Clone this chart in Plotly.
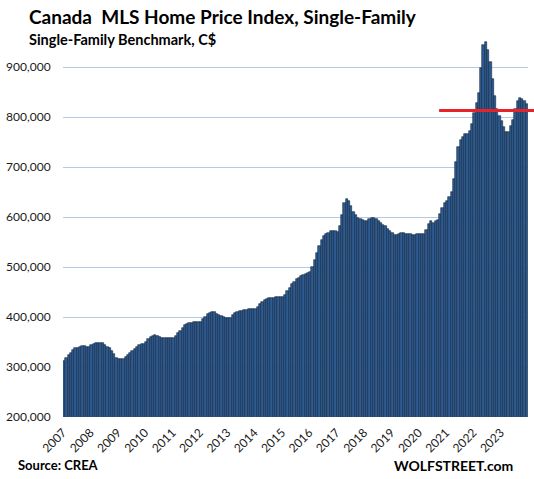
import plotly.graph_objects as go

# ---- data ----
start_year = 2007
hpi_values = [
    313000, 319000, 325000, 329000, 335000, 339000, 339000, 341000, 343000, 343000, 341000, 341000,  # 2007
    345000, 347000, 349000, 349000, 349000, 349000, 345000, 341000, 339000, 333000, 327000, 319000,  # 2008
    317000, 317000, 317000, 321000, 325000, 329000, 333000, 337000, 341000, 345000, 347000, 347000,  # 2009
    351000, 357000, 361000, 363000, 365000, 363000, 361000, 359000, 359000, 359000, 359000, 359000,  # 2010
    359000, 363000, 369000, 373000, 379000, 385000, 387000, 389000, 389000, 391000, 391000, 391000,  # 2011
    391000, 396000, 401000, 406000, 409000, 411000, 410000, 407000, 404000, 403000, 401000, 399000,  # 2012
    398000, 399000, 405000, 409000, 411000, 413000, 413000, 415000, 415000, 416000, 416000, 416000,  # 2013
    416000, 421000, 426000, 431000, 435000, 437000, 439000, 439000, 439000, 441000, 441000, 441000,  # 2014
    441000, 445000, 453000, 459000, 467000, 470000, 476000, 479000, 483000, 485000, 487000, 489000,  # 2015
    491000, 501000, 515000, 529000, 543000, 555000, 563000, 567000, 569000, 572000, 572000, 572000,  # 2016
    570000, 583000, 605000, 629000, 637000, 632000, 623000, 611000, 604000, 599000, 597000, 595000,  # 2017
    593000, 593000, 597000, 599000, 599000, 597000, 593000, 589000, 585000, 582000, 577000, 572000,  # 2018
    569000, 565000, 565000, 567000, 569000, 569000, 567000, 567000, 567000, 565000, 565000, 567000,  # 2019
    567000, 567000, 567000, 575000, 587000, 593000, 589000, 592000, 595000, 607000, 619000, 628000,  # 2020
    632000, 641000, 651000, 677000, 711000, 741000, 755000, 760000, 767000, 767000, 773000, 787000,  # 2021
    809000, 829000, 849000, 899000, 945000, 951000, 935000, 911000, 877000, 843000, 817000, 803000,  # 2022
    793000, 781000, 771000, 771000, 783000, 795000, 817000, 832000, 839000, 836000, 832000, 827000,  # 2023
]
year_labels = [str(y) for y in range(2007, 2024)]
y_ticks = [200000, 300000, 400000, 500000, 600000, 700000, 800000, 900000]
ref_level = 813000          # red reference line
ref_start = (2020, 9)       # month where the red line begins

# ---- derived positions ----
n = len(hpi_values)
month_index = list(range(n))
tick_positions = [12 * (int(y) - start_year) - 0.5 for y in year_labels]
x_range = [-0.5, n - 0.5]
y_range = [200000, 960000]

ref_idx = (ref_start[0] - start_year) * 12 + (ref_start[1] - 1)
ref_x0 = (ref_idx + 0.5 - x_range[0]) / (x_range[1] - x_range[0])
ref_y = (ref_level - y_range[0]) / (y_range[1] - y_range[0])

FONT = "Lato"

fig = go.Figure()
fig.add_trace(go.Bar(
    x=month_index,
    y=hpi_values,
    marker=dict(color="#2d5c93", line=dict(color="#14253d", width=0.6)),
    hoverinfo="y",
))

fig.update_layout(
    width=534, height=479,
    margin=dict(l=63, r=6, t=37, b=62),
    paper_bgcolor="white", plot_bgcolor="white",
    bargap=0,
    showlegend=False,
    font=dict(family=FONT, color="#1a1a1a"),
    xaxis=dict(
        range=x_range, automargin=False,
        tickmode="array", tickvals=tick_positions, ticktext=year_labels,
        tickangle=-45, tickfont=dict(size=12, family=FONT, color="#1a1a1a"),
        ticks="outside", ticklen=3, tickcolor="rgba(0,0,0,0)",
        showgrid=False, zeroline=False, showline=False,
    ),
    yaxis=dict(
        range=y_range, automargin=False,
        tickmode="array", tickvals=y_ticks,
        tickformat=",d",
        tickfont=dict(size=12, family=FONT, color="#1a1a1a"),
        ticks="outside", ticklen=9, tickcolor="rgba(0,0,0,0)",
        showgrid=True, gridcolor="#b3c9e4", gridwidth=1,
        zeroline=False, showline=False,
    ),
    shapes=[dict(
        type="line", xref="paper", yref="paper",
        x0=ref_x0, x1=1 + 6 / 465, y0=ref_y, y1=ref_y,
        line=dict(color="#e8222b", width=3), layer="above",
    )],
    annotations=[
        dict(text="<b>Canada  MLS Home Price Index, Single-Family</b>",
             xref="paper", yref="paper", x=-36 / 465, y=1 + 7 / 380,
             xanchor="left", yanchor="bottom", showarrow=False,
             font=dict(size=19, family=FONT, color="#000000")),
        dict(text="<b>Single-Family Benchmark, C$</b>",
             xref="paper", yref="paper", x=-36 / 465, y=1 - 13 / 380,
             xanchor="left", yanchor="bottom", showarrow=False,
             font=dict(size=14.5, family=FONT, color="#000000")),
        dict(text="<b>Source: CREA</b>",
             xref="paper", yref="paper", x=-47 / 465, y=-58 / 380,
             xanchor="left", yanchor="bottom", showarrow=False,
             font=dict(size=13, family=FONT, color="#000000")),
        dict(text="<b>WOLFSTREET.com</b>",
             xref="paper", yref="paper", x=1 - 13 / 465, y=-59 / 380,
             xanchor="right", yanchor="bottom", showarrow=False,
             font=dict(size=14, family=FONT, color="#000000")),
    ],
)

# remove the browser's default 8px body margin so the figure fills the window
fig.write_html("out.html", config={"displayModeBar": False},
               post_script="document.body.style.margin='0';")
